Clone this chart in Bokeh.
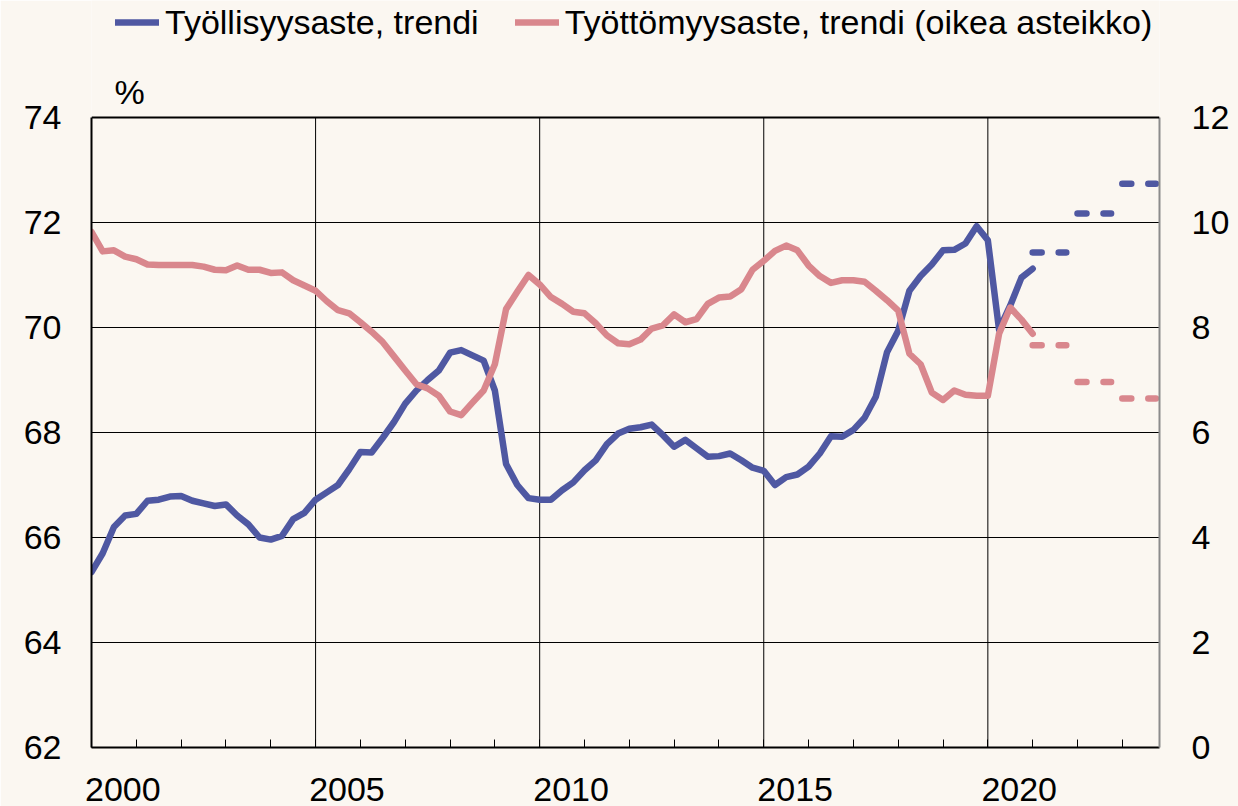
from bokeh.plotting import figure
from bokeh.models import (Range1d, LinearAxis, FixedTicker, Legend, LegendItem, Label, Span)
from bokeh.embed import file_html
from bokeh.resources import INLINE

# ---------------- data ----------------
start_year = 2000
# Quarterly trend, employment rate (%), left axis, 2000Q1 .. 2021Q1
employment = [
    65.34, 65.70, 66.20, 66.42, 66.45, 66.70, 66.72, 66.78, 66.79, 66.70,
    66.65, 66.60, 66.63, 66.42, 66.25, 66.00, 65.96, 66.03, 66.35, 66.47,
    66.72, 66.86, 67.00, 67.30, 67.63, 67.62, 67.90, 68.20, 68.55, 68.80,
    69.00, 69.18, 69.52, 69.57, 69.47, 69.37, 68.80, 67.40, 67.00, 66.75,
    66.72, 66.72, 66.90, 67.05, 67.28, 67.47, 67.78, 67.98, 68.07, 68.10,
    68.15, 67.95, 67.73, 67.86, 67.70, 67.54, 67.55, 67.60, 67.47, 67.33,
    67.27, 67.00, 67.15, 67.20, 67.35, 67.60, 67.93, 67.92, 68.05, 68.28,
    68.68, 69.53, 69.94, 70.70, 70.98, 71.20, 71.47, 71.48, 71.60, 71.93,
    71.66, 69.96, 70.42, 70.95, 71.12,
]
# Quarterly trend, unemployment rate (%), right axis, 2000Q1 .. 2021Q1
unemployment = [
    9.82, 9.45, 9.47, 9.35, 9.30, 9.20, 9.19, 9.19, 9.19, 9.19,
    9.16, 9.10, 9.09, 9.18, 9.10, 9.10, 9.04, 9.05, 8.90, 8.80,
    8.70, 8.50, 8.33, 8.27, 8.10, 7.92, 7.72, 7.45, 7.18, 6.92,
    6.84, 6.70, 6.40, 6.33, 6.57, 6.80, 7.30, 8.35, 8.68, 9.00,
    8.82, 8.58, 8.45, 8.30, 8.27, 8.08, 7.85, 7.70, 7.68, 7.77,
    7.98, 8.04, 8.25, 8.10, 8.16, 8.45, 8.57, 8.59, 8.73, 9.10,
    9.27, 9.46, 9.56, 9.47, 9.18, 8.98, 8.85, 8.90, 8.90, 8.87,
    8.70, 8.52, 8.32, 7.50, 7.30, 6.76, 6.62, 6.80, 6.72, 6.70,
    6.70, 7.88, 8.38, 8.15, 7.88,
]
# Annual forecasts
forecast_years = [2021, 2022, 2023]
employment_forecast = [71.43, 72.17, 72.74]
unemployment_forecast = [7.66, 6.96, 6.65]

year_labels = ["2000", "2005", "2010", "2015", "2020"]
grid_years = [2005, 2010, 2015, 2020]
left_ticks = [62, 64, 66, 68, 70, 72, 74]
right_ticks = [0, 2, 4, 6, 8, 10, 12]
legend_labels = ["Työllisyysaste, trendi", "Työttömyysaste, trendi (oikea asteikko)"]
unit_label = "%"

# ---------------- styling / layout ----------------
BG = "#FBF7F1"
BLUE = "#4F58A2"
PINK = "#D9878D"
FONT = "Liberation Sans"
W, H = 1238, 806
BORDER_L, BORDER_R, BORDER_B = 91, 79, 59
TOP_PAD = 117                      # px between canvas top and the chart box (legend area)
frame_h = H - BORDER_B
px_per_unit = (frame_h - TOP_PAD) / (left_ticks[-1] - left_ticks[0])
left_top = left_ticks[-1] + TOP_PAD / px_per_unit
right_top = right_ticks[-1] + TOP_PAD / px_per_unit

quarters = [start_year + i / 4 for i in range(len(employment))]
fc_x1 = [y + 0.75 for y in forecast_years]

p = figure(width=W, height=H,
           x_range=Range1d(2000, 2023.83), y_range=Range1d(left_ticks[0], left_top),
           output_backend="svg", toolbar_location=None,
           min_border_left=BORDER_L, min_border_right=BORDER_R, min_border_top=0,
           min_border_bottom=BORDER_B,
           background_fill_color=BG, border_fill_color=BG, outline_line_color=None)
p.title_location = None
p.extra_y_ranges = {"right": Range1d(right_ticks[0], right_top)}

# grid
p.xgrid.visible = False
p.ygrid.ticker = FixedTicker(ticks=left_ticks[1:-1])
p.ygrid.grid_line_color = "black"
p.ygrid.grid_line_width = 1
p.segment(x0=grid_years, x1=grid_years, y0=[left_ticks[0]] * len(grid_years),
          y1=[left_ticks[-1]] * len(grid_years), line_color="black", line_width=1)
p.add_layout(Span(location=left_ticks[-1], dimension="width", line_color="black", line_width=2))

# lines
blue_line = p.line(quarters, employment, line_color=BLUE, line_width=6.5, line_join="round", line_cap="round")
pink_line = p.line(quarters, unemployment, line_color=PINK, line_width=6.5, line_join="round", line_cap="round",
                   y_range_name="right")
p.segment(x0=forecast_years, x1=fc_x1, y0=employment_forecast, y1=employment_forecast,
          line_color=BLUE, line_width=6.5, line_dash="9 17", line_cap="round")
p.segment(x0=forecast_years, x1=fc_x1, y0=unemployment_forecast, y1=unemployment_forecast,
          line_color=PINK, line_width=6.5, line_dash="9 17", line_cap="round", y_range_name="right")

# x axis: labels sit to the right of the year line, yearly ticks inside
label_pos = [int(s) + 0.7 for s in year_labels]
xa = p.xaxis[0]
xa.ticker = FixedTicker(ticks=label_pos, minor_ticks=list(range(2000, 2024)))
xa.major_label_overrides = {pos: s for pos, s in zip(label_pos, year_labels)}
xa.major_tick_line_color = None
xa.major_tick_in = 0
xa.major_tick_out = 0
xa.minor_tick_in = 8
xa.minor_tick_out = 0
xa.minor_tick_line_color = "black"
xa.minor_tick_line_width = 1
xa.axis_line_color = "black"
xa.axis_line_width = 2
xa.major_label_standoff = 30
xa.major_label_text_font = FONT
xa.major_label_text_font_size = "34px"
xa.major_label_text_color = "black"

# y axes
ya = p.yaxis[0]
ya.ticker = FixedTicker(ticks=left_ticks)
ya.bounds = (left_ticks[0], left_ticks[-1])
ry = LinearAxis(y_range_name="right", ticker=FixedTicker(ticks=right_ticks),
                bounds=(right_ticks[0], right_ticks[-1]))
p.add_layout(ry, "right")
for ax in (ya, ry):
    ax.major_tick_in = 0
    ax.major_tick_out = 0
    ax.minor_tick_line_color = None
    ax.major_label_text_font = FONT
    ax.major_label_text_font_size = "34px"
    ax.major_label_text_color = "black"
ya.major_label_standoff = 30
ya.axis_line_color = "black"
ya.axis_line_width = 2
ry.axis_line_color = "#8C8C8C"
ry.axis_line_width = 2
ry.major_label_standoff = 32

# "%" unit text above the left axis (screen px from the frame's bottom-left)
p.add_layout(Label(x=38, y=frame_h - 91, x_units="screen", y_units="screen", text=unit_label,
                   text_align="center", text_baseline="middle",
                   text_font=FONT, text_font_size="34px", text_color="black"))

# legend (location = bottom-left corner, px from the frame's bottom-left)
legend = Legend(items=[LegendItem(label=legend_labels[0], renderers=[blue_line]),
                       LegendItem(label=legend_labels[1], renderers=[pink_line])],
                orientation="horizontal", location=(24, frame_h - 42),
                label_text_font=FONT, label_text_font_size="34px", label_text_color="black",
                glyph_width=44, glyph_height=40, label_standoff=6, spacing=36,
                padding=0, margin=0, border_line_alpha=0, background_fill_alpha=0)
p.add_layout(legend, "center")

open("out.html", "w").write(file_html(p, INLINE))
